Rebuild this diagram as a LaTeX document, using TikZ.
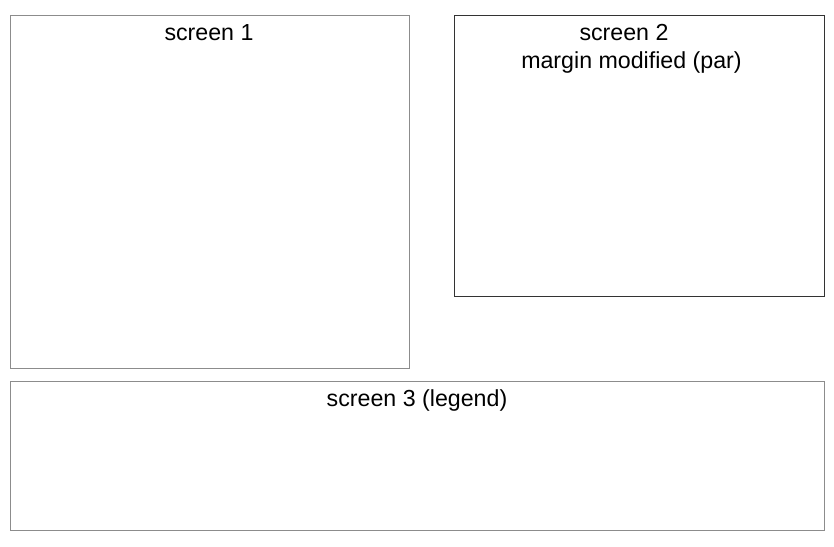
\documentclass[tikz,border=0pt]{standalone}
\usepackage{fontspec}
\setmainfont{Liberation Sans}
\tikzstyle{screen}=[draw=black!45, line width=0.7pt, anchor=north west, inner sep=0pt]
\tikzstyle{lbl}=[font=\fontsize{23.2}{27}\selectfont, inner sep=0pt]

\begin{document}
\begin{tikzpicture}[x=1pt, y=-1pt]
  \useasboundingbox (0,0) rectangle (834,546);
  \node[screen, minimum width=399pt, minimum height=353pt] (scr1) at (9.5,15) {};
  \node[screen, draw=black!80, minimum width=370pt, minimum height=281pt] (scr2) at (453.5,15) {};
  \node[screen, minimum width=814pt, minimum height=149pt] (scr3) at (9.5,381) {};
  \node[lbl] (t1) at (209,33) {screen 1};
  \node[lbl] (t2) at (624,33) {screen 2};
  \node[lbl] (t2b) at (631.5,63) {margin modified (par)};
  \node[lbl] (t3) at (417,400) {screen 3 (legend)};
\end{tikzpicture}
\end{document}
